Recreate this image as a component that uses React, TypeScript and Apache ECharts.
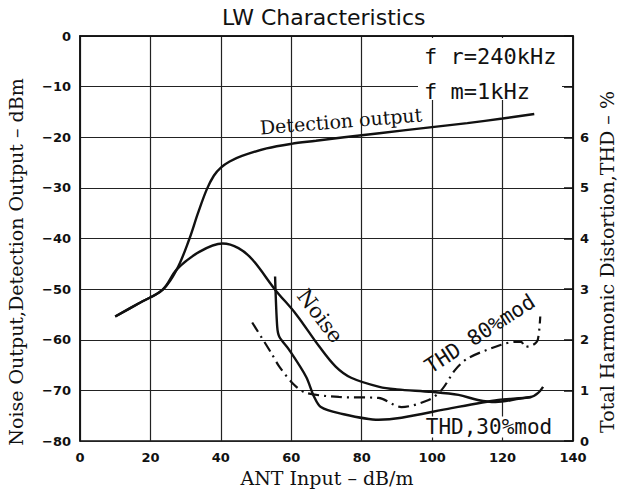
import React, { useEffect, useRef } from "react";
import * as echarts from "echarts";

const titleText = "LW Characteristics";
const xName = "ANT Input – dB/m";
const leftName = "Noise Output,Detection Output – dBm";
const rightName = "Total Harmonic Distortion,THD – %";

const rightLabels = ["0", "1", "2", "3", "4", "5", "6"];

// Detection output (dBm)
const detX = [10, 17, 23.5, 27.5, 31, 33.5, 36, 38, 40, 42.5, 46, 53, 60, 67, 75, 85, 100, 110, 120, 129];
const detY = [-55.4, -52.7, -50.1, -46.1, -40.2, -35, -30.3, -27.6, -26, -24.8, -23.7, -22.2, -21.3, -20.7, -20, -19.2, -18, -17.2, -16.3, -15.4];

// Noise output (dBm)
const noiseX = [10, 17, 23.5, 27.5, 34, 40.5, 45, 49, 55.4, 61.3, 67.9, 72.6, 77, 85, 90, 100, 107.5, 113, 118, 125, 128];
const noiseY = [-55.4, -52.7, -50.1, -46.1, -42.6, -41, -41.9, -44.2, -50.1, -54.9, -61.3, -65.3, -67.5, -69.3, -69.8, -70.3, -70.9, -71.9, -72.3, -71.6, -71.3];

// THD 30% mod (%)
const thd30X = [55.4, 56, 56.6, 59.4, 64.2, 66.5, 68.4, 73.5, 84.8, 91.3, 105.5, 118.8, 128.1, 130.1, 131.5];
const thd30Y = [3.25, 2.26, 2.06, 1.8, 1.27, 0.87, 0.67, 0.55, 0.42, 0.46, 0.65, 0.81, 0.87, 0.95, 1.07];

// THD 80% mod (%)
const thd80X = [48.9, 54.3, 56.6, 60.8, 64.2, 73.5, 84.8, 91.3, 99, 102.7, 106.6, 110.3, 119.6, 123.6, 125.3, 126.4, 128.7, 130, 130.7];
const thd80Y = [2.34, 1.74, 1.47, 1.11, 0.95, 0.87, 0.85, 0.67, 0.81, 1.01, 1.41, 1.64, 1.9, 1.96, 1.96, 1.86, 1.9, 2.0, 2.46];

const pair = (xs: number[], ys: number[]) => xs.map((x, i) => [x, ys[i]]);

export default function App() {
  const ref = useRef<HTMLDivElement>(null);
  useEffect(() => {
    if (!ref.current) return;
    const chart = echarts.init(ref.current, null, { renderer: "svg" });
    const serif = "DejaVu Serif";
    const mono = "DejaVu Sans Mono";
    const lineStyle = { color: "#111", width: 2.4 };
    const tickFont = { color: "#111", fontFamily: "DejaVu Sans", fontSize: 13, fontWeight: "bold" as const };
    chart.setOption({
      animation: false,
      backgroundColor: "#fff",
      grid: { left: 80, right: 49, top: 36, bottom: 54, show: true, borderColor: "#111", borderWidth: 1.5 },
      xAxis: {
        type: "value", min: 0, max: 140, interval: 20,
        axisLine: { lineStyle: { color: "#111", width: 1.5 } },
        axisTick: { show: false },
        axisLabel: { ...tickFont, margin: 10 },
        splitLine: { lineStyle: { color: "#222", width: 1.2 } },
      },
      yAxis: [
        {
          type: "value", min: -80, max: 0, interval: 10,
          axisLine: { show: true, lineStyle: { color: "#111", width: 1.5 } },
          axisTick: { show: false },
          axisLabel: { ...tickFont, margin: 9,
            formatter: (v: number) => (v < 0 ? "−" + Math.abs(v) : String(v)) },
          splitLine: { lineStyle: { color: "#222", width: 1.2 } },
        },
        {
          type: "value", min: 0, max: 8, interval: 1, position: "right",
          axisLine: { show: true, lineStyle: { color: "#111", width: 1.5 } },
          axisTick: { show: true, inside: true, length: 9, lineStyle: { color: "#111", width: 1.5 } },
          axisLabel: { ...tickFont, margin: 7,
            formatter: (v: number) => (v <= 6 ? rightLabels[v] : "") },
          splitLine: { show: false },
        },
      ],
      series: [
        { type: "line", name: "Detection output", data: pair(detX, detY), smooth: 0.35, showSymbol: false, lineStyle, z: 3 },
        { type: "line", name: "Noise", data: pair(noiseX, noiseY), smooth: 0.35, showSymbol: false, lineStyle, z: 3 },
        { type: "line", name: "THD 30%mod", yAxisIndex: 1, data: pair(thd30X, thd30Y), smooth: 0.3, showSymbol: false, lineStyle, z: 3 },
        { type: "line", name: "THD 80%mod", yAxisIndex: 1, data: pair(thd80X, thd80Y), smooth: 0.3, showSymbol: false,
          lineStyle: { color: "#111", width: 2.2, type: [11, 5, 2, 5] }, z: 3 },
      ],
      graphic: [
        { type: "rect", z: 1, shape: { x: 418, y: 38, width: 144, height: 62 }, style: { fill: "#fff" } },
        { type: "text", z: 10, x: 222, y: 17, style: { text: titleText, font: "22px 'DejaVu Sans'", fill: "#111", textAlign: "left", textVerticalAlign: "middle" } },
        { type: "text", z: 10, x: 424, y: 56, style: { text: "f r=240kHz", font: `22px '${mono}'`, fill: "#111", textAlign: "left", textVerticalAlign: "middle" } },
        { type: "text", z: 10, x: 424, y: 91, style: { text: "f m=1kHz", font: `22px '${mono}'`, fill: "#111", textAlign: "left", textVerticalAlign: "middle" } },
        { type: "text", z: 10, x: 341, y: 121, rotation: (4.6 * Math.PI) / 180, style: { text: "Detection output", font: `19px '${serif}'`, fill: "#111", textAlign: "center", textVerticalAlign: "middle" } },
        { type: "text", z: 10, x: 320, y: 316, rotation: (-53 * Math.PI) / 180, style: { text: "Noise", font: `21px '${serif}'`, fill: "#111", textAlign: "center", textVerticalAlign: "middle" } },
        { type: "text", z: 10, x: 480, y: 334, rotation: (33 * Math.PI) / 180, style: { text: "THD 80%mod", font: `21px '${mono}'`, fill: "#111", textAlign: "center", textVerticalAlign: "middle" } },
        { type: "text", z: 10, x: 489, y: 427, style: { text: "THD,30%mod", font: `21px '${mono}'`, fill: "#111", textAlign: "center", textVerticalAlign: "middle", backgroundColor: "#fff" } },
        { type: "text", z: 10, x: 327, y: 478, style: { text: xName, font: `19px '${serif}'`, fill: "#111", textAlign: "center", textVerticalAlign: "middle" } },
        { type: "text", z: 10, x: 16, y: 262, rotation: Math.PI / 2, style: { text: leftName, font: `19px '${serif}'`, fill: "#111", textAlign: "center", textVerticalAlign: "middle" } },
        { type: "text", z: 10, x: 607, y: 262, rotation: Math.PI / 2, style: { text: rightName, font: `19px '${serif}'`, fill: "#111", textAlign: "center", textVerticalAlign: "middle" } },
      ],
    });
    return () => chart.dispose();
  }, []);
  return <div ref={ref} style={{ position: "absolute", left: 0, top: 0, width: 622, height: 495 }} />;
}
